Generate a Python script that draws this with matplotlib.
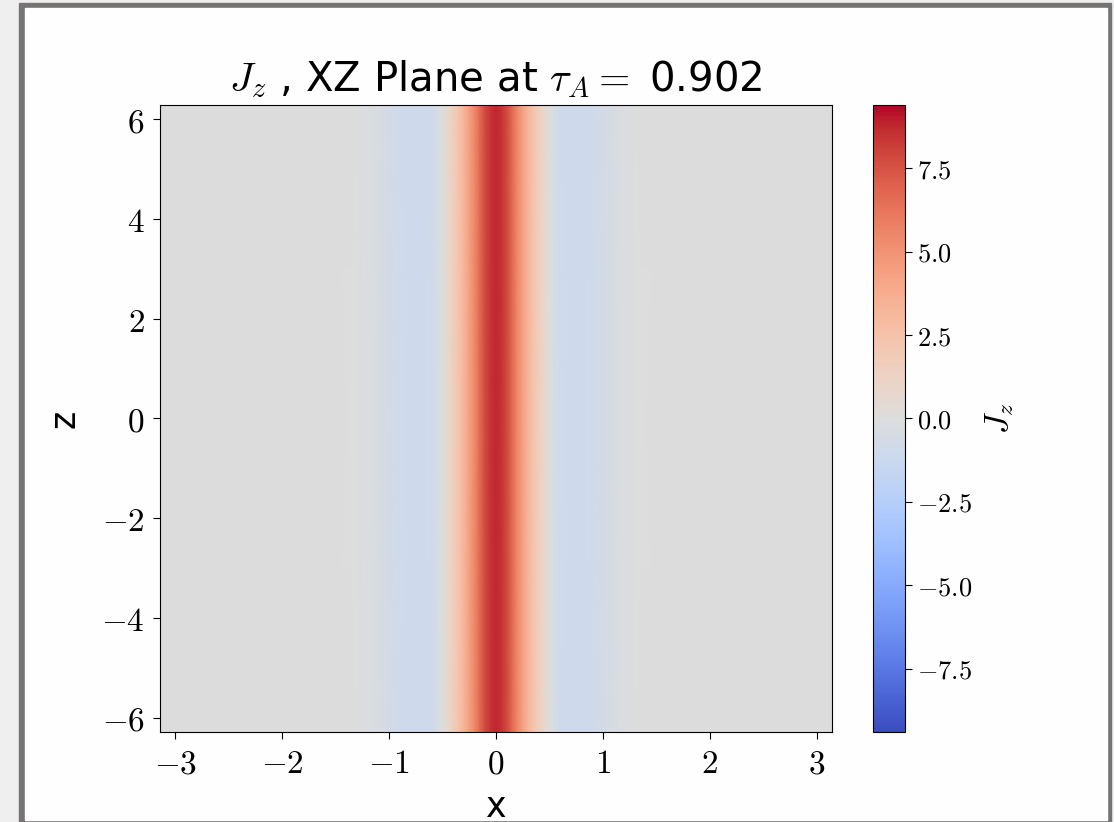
import numpy as np
import matplotlib
matplotlib.use("Agg")
import matplotlib.pyplot as plt
from matplotlib.patches import Rectangle
from matplotlib.ticker import FixedLocator, FuncFormatter

plt.rcParams['mathtext.fontset'] = 'cm'
plt.rcParams['font.family'] = ['DejaVu Sans']

# current density profile across x (uniform along z)
x_pts = [-3.1416, -1.5, -1.3, -1.2, -1.1, -1.0, -0.9, -0.8, -0.7, -0.6, -0.55,
         -0.5, -0.45, -0.4, -0.35, -0.3, -0.25, -0.2, -0.15, -0.1, -0.05, 0.0,
         0.05, 0.1, 0.15, 0.2, 0.25, 0.3, 0.35, 0.4, 0.45, 0.5,
         0.55, 0.6, 0.7, 0.8, 0.9, 1.0, 1.1, 1.2, 1.3, 1.5, 3.1416]
jz_pts = [0.0, 0.0, -0.05, -0.15, -0.35, -0.7, -0.95, -1.0, -1.0, -0.9, -0.5,
          0.0, 0.8, 1.6, 2.4, 3.3, 4.4, 5.5, 6.7, 7.8, 8.5, 8.8,
          8.5, 7.8, 6.7, 5.5, 4.4, 3.3, 2.4, 1.6, 0.8, 0.0,
          -0.5, -0.9, -1.0, -1.0, -0.95, -0.7, -0.35, -0.15, -0.05, 0.0, 0.0]
z_pts = [-6.2832, 6.2832]

x_ticks = [-3, -2, -1, 0, 1, 2, 3]
z_ticks = [-6, -4, -2, 0, 2, 4, 6]
cbar_ticks = [-7.5, -5.0, -2.5, 0.0, 2.5, 5.0, 7.5]
tau_a = 0.902

W, H = 1114, 822
fig = plt.figure(figsize=(W / 100, H / 100), dpi=100)
fig.patch.set_facecolor('#efefef')
# window frame and white canvas
fig.patches.append(Rectangle((19 / W, 0), (1111 - 19) / W, (H - 3) / H,
                             transform=fig.transFigure, color='#767373', zorder=-10))
fig.patches.append(Rectangle((25 / W, (H - 820) / H), (1107 - 25) / W, (820 - 8) / H,
                             transform=fig.transFigure, color='#fdfefd', zorder=-9))

ax = fig.add_axes([160 / W, (H - 732) / H, 672 / W, 627 / H])
cax = fig.add_axes([873 / W, (H - 732) / H, 32 / W, 627 / H])

X, Z = np.meshgrid(x_pts, z_pts)
JZ = np.tile(jz_pts, (len(z_pts), 1))
mesh = ax.pcolormesh(X, Z, JZ, cmap='coolwarm', vmin=-9.4, vmax=9.4, shading='gouraud')
ax.set_xlim(-3.1416, 3.1416)
ax.set_ylim(-6.2832, 6.2832)

math_fmt = FuncFormatter(lambda v, _: f'${v:g}$')
ax.xaxis.set_major_locator(FixedLocator(x_ticks))
ax.yaxis.set_major_locator(FixedLocator(z_ticks))
ax.xaxis.set_major_formatter(math_fmt)
ax.yaxis.set_major_formatter(math_fmt)
ax.tick_params(labelsize=24, length=5, pad=6)
ax.set_xlabel('x', fontsize=25, labelpad=7)
ax.set_ylabel('z', fontsize=25, labelpad=14)
ax.set_title(r'$J_z$ , XZ Plane at $\tau_A =$ ' + f'{tau_a}', fontsize=29, pad=10)

cb = fig.colorbar(mesh, cax=cax)
cb.set_ticks(cbar_ticks)
cb.ax.yaxis.set_major_formatter(FuncFormatter(lambda v, _: f'${v:.1f}$'))
cb.ax.tick_params(labelsize=19, length=5)
cb.set_label(r'$J_z$', fontsize=24, labelpad=8)

fig.savefig('out.png', dpi=100, facecolor=fig.get_facecolor())
